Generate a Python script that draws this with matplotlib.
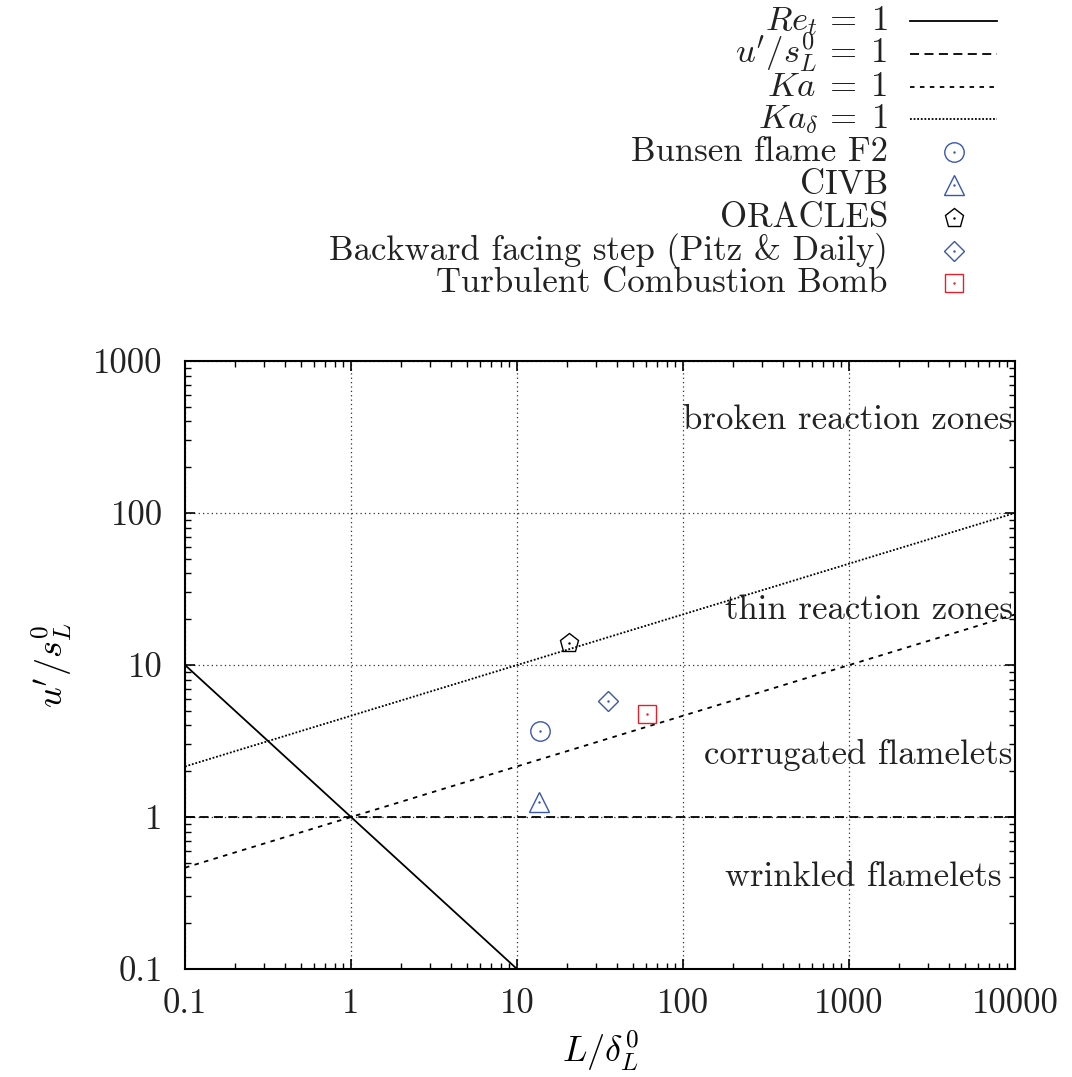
import matplotlib
matplotlib.use("Agg")
import matplotlib.pyplot as plt
from matplotlib.lines import Line2D
from matplotlib.ticker import FixedLocator, FixedFormatter, LogLocator, NullFormatter

plt.rcParams['font.family'] = 'serif'
plt.rcParams['font.serif'] = ['cmr10', 'DejaVu Serif']
plt.rcParams['mathtext.fontset'] = 'cm'
plt.rcParams['axes.formatter.use_mathtext'] = True

# boundary lines of the regime diagram (end points)
x_range = [0.1, 10000]
re_x = [0.1, 10]
re_y = [10, 0.1]
unity_y = [1, 1]
ka_y = [0.464, 21.5]
kad_y = [2.15, 100]

# experiments
exp_names = ['Bunsen flame F2', 'CIVB', 'ORACLES',
             'Backward facing step (Pitz & Daily)', 'Turbulent Combustion Bomb']
exp_x = [13.8, 13.6, 20.5, 35.5, 60.5]
exp_y = [3.68, 1.26, 13.9, 5.8, 4.75]
exp_marker = ['o', '^', 'p', 'D', 's']
exp_size = [14, 14, 14, 9.8, 13.5]
exp_color = ['#3a56ad', '#3a56ad', 'black', '#3a56ad', '#e5202a']

regions = ['broken reaction zones', 'thin reaction zones',
           'corrugated flamelets', 'wrinkled flamelets']
region_x = [9700, 9700, 9700, 8300]
region_y = [405, 23, 2.55, 0.40]

xticks = [0.1, 1, 10, 100, 1000, 10000]
xlabels = ['0.1', '1', '10', '100', '1000', '10000']
yticks = [0.1, 1, 10, 100, 1000]
ylabels = ['0.1', '1', '10', '100', '1000']

fs = 25
W, H = 1072, 1077

fig = plt.figure(figsize=(W / 100, H / 100), dpi=100)
ax = fig.add_axes([185 / W, 1 - 969 / H, 830 / W, 608 / H])
ax.set_xscale('log')
ax.set_yscale('log')
ax.set_xlim(0.1, 10000)
ax.set_ylim(0.1, 1000)

line_x = [re_x, x_range, x_range, x_range]
line_y = [re_y, unity_y, ka_y, kad_y]
line_ls = ['-', (0, (5, 3)), (0, (2.5, 3)), (0, (1, 1))]
line_labels = [r'$Re_t\,=\;1$', r"$u'/s_L^0\,=\;1$", r'$Ka\;=\;1$', r'$Ka_\delta\,=\;1$']
for i in range(4):
    ax.plot(line_x[i], line_y[i], color='black', lw=1.3, ls=line_ls[i])

for i in range(len(exp_names)):
    ax.plot(exp_x[i], exp_y[i], ls='none', marker=exp_marker[i], ms=exp_size[i],
            mfc='none', mec=exp_color[i], mew=1.0, zorder=4)
    ax.plot(exp_x[i], exp_y[i], ls='none', marker='.', ms=1.5,
            color=exp_color[i], zorder=4)

for i in range(len(regions)):
    ax.text(region_x[i], region_y[i], regions[i], ha='right', va='center',
            fontsize=fs, color='#222222', zorder=3)

ax.grid(True, which='major', ls=(0, (1, 2.5)), color='#333333', lw=0.9)
ax.set_axisbelow(True)

ax.xaxis.set_major_locator(FixedLocator(xticks))
ax.xaxis.set_major_formatter(FixedFormatter(xlabels))
ax.yaxis.set_major_locator(FixedLocator(yticks))
ax.yaxis.set_major_formatter(FixedFormatter(ylabels))
ax.xaxis.set_minor_locator(LogLocator(base=10, subs=range(2, 10), numticks=20))
ax.yaxis.set_minor_locator(LogLocator(base=10, subs=range(2, 10), numticks=20))
ax.xaxis.set_minor_formatter(NullFormatter())
ax.yaxis.set_minor_formatter(NullFormatter())
ax.tick_params(which='both', direction='in', top=True, right=True,
               labelsize=fs, colors='black', labelcolor='#222222')
ax.tick_params(which='major', length=7, width=1.2, pad=14)
ax.tick_params(axis='y', which='major', pad=16)
ax.tick_params(which='minor', length=4, width=1.0)
for s in ax.spines.values():
    s.set_linewidth(1.5)

ax.set_xlabel(r'$L/\delta_L^0$', fontsize=fs + 1, labelpad=6)
ax.set_ylabel(r"$u'/s_L^0$", fontsize=fs + 1, labelpad=14)

# key at the top, drawn by hand to mimic the tight gnuplot key
row0, dy = 21, 32.8
tx, lx0, lx1, mx = 888, 910, 997, 954
for i in range(4):
    yc = 1 - (row0 + i * dy) / H
    fig.text(tx / W, yc - 9 / H, line_labels[i], ha='right', va='baseline',
             fontsize=fs, color='#222222')
    fig.add_artist(Line2D([lx0 / W, lx1 / W], [yc, yc], transform=fig.transFigure,
                          color='black', lw=1.3, ls=line_ls[i]))
for i in range(len(exp_names)):
    yc = 1 - (row0 + (i + 4) * dy) / H
    fig.text(tx / W, yc - 9 / H, exp_names[i], ha='right', va='baseline',
             fontsize=fs, color='#222222')
    fig.add_artist(Line2D([mx / W], [yc], transform=fig.transFigure, ls='none',
                          marker=exp_marker[i], ms=exp_size[i], mfc='none',
                          mec=exp_color[i], mew=1.0))
    fig.add_artist(Line2D([mx / W], [yc], transform=fig.transFigure, ls='none',
                          marker='.', ms=1.5, color=exp_color[i]))

fig.savefig('out.png', dpi=100)
